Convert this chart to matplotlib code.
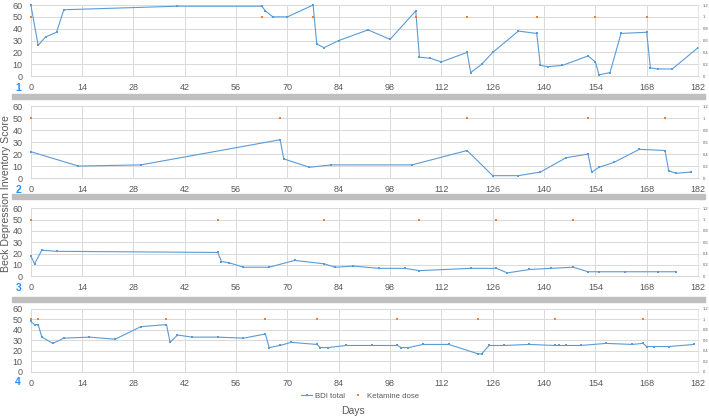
import matplotlib
matplotlib.use("Agg")
import matplotlib.pyplot as plt
from matplotlib.patches import Rectangle

# === DADOS ===
days_1 = [0, 2, 4, 7, 9, 40, 63, 64, 66, 70, 77, 78, 80, 84, 92, 98, 105, 106, 109, 112,
          119, 120, 123, 126, 133, 138, 139, 141, 145, 152, 154, 155, 158, 161, 168, 169,
          171, 175, 182]
bdi_1 = [60, 26, 33, 37, 56, 59, 59, 55, 50, 50, 60, 27, 24, 30, 39, 31, 55, 16, 15, 12,
         20, 3, 10, 20, 38, 36, 9, 8, 9, 17, 12, 1, 3, 36, 37, 7, 6, 6, 24]
ket_1 = [0, 63, 77, 105, 119, 138, 154, 168]

days_2 = [0, 13, 30, 68, 69, 76, 82, 104, 119, 126, 133, 139, 146, 152, 153, 155, 159,
          166, 173, 174, 176, 180]
bdi_2 = [22, 10, 11, 32, 16, 9, 11, 11, 23, 2, 2, 5, 17, 20, 5, 9, 13, 24, 23, 6, 4, 5]
ket_2 = [0, 68, 119, 152, 173]

days_3 = [0, 1, 3, 7, 51, 52, 54, 58, 65, 72, 80, 83, 88, 95, 102, 106, 120, 127, 130,
          136, 142, 148, 152, 155, 162, 171, 176]
bdi_3 = [18, 11, 23, 22, 21, 13, 12, 8, 8, 14, 11, 8, 9, 7, 7, 5, 7, 7, 3, 6, 7, 8, 4, 4,
         4, 4, 4]
ket_3 = [0, 51, 80, 106, 127, 148]

days_4 = [0, 1, 2, 3, 6, 9, 16, 23, 30, 37, 38, 40, 44, 51, 58, 64, 65, 68, 71, 78, 79,
          81, 86, 93, 100, 101, 103, 107, 114, 122, 123, 125, 129, 136, 143, 144, 146,
          150, 157, 164, 167, 168, 170, 174, 181]
bdi_4 = [48, 45, 45, 33, 27, 32, 33, 31, 43, 45, 28, 35, 33, 33, 32, 36, 23, 25, 28, 26,
         23, 23, 25, 25, 25, 23, 23, 26, 26, 17, 17, 25, 25, 26, 25, 25, 25, 25, 27, 26,
         27, 24, 24, 24, 26]
ket_4 = [0, 2, 37, 64, 78, 100, 122, 143, 167]

KET_LEVEL = 1.0
x_ticks = list(range(0, 183, 14))

panels = [
    (days_1, bdi_1, ket_1, "1"),
    (days_2, bdi_2, ket_2, "2"),
    (days_3, bdi_3, ket_3, "3"),
    (days_4, bdi_4, ket_4, "4"),
]

# === ESTILO ===
COL_BDI = "#5b9bd5"
COL_KET = "#ed7d31"
COL_TXT = "#595959"
COL_GRID = "#d9d9d9"
COL_NUM = "#1e90ff"

plt.rcParams["font.family"] = ["Liberation Sans", "DejaVu Sans"]

fig = plt.figure(figsize=(7.09, 4.18), dpi=100)

# posição dos eixos [left, bottom, width, height] em fração da figura
boxes = [
    [0.0435, 0.818, 0.941, 0.170],
    [0.0435, 0.574, 0.941, 0.172],
    [0.0435, 0.339, 0.941, 0.163],
    [0.0435, 0.111, 0.941, 0.150],
]

handles = None
for (d, b, k, num), box in zip(panels, boxes):
    ax = fig.add_axes(box)
    ax2 = ax.twinx()   # fica por cima: pontos de cetamina sobre a grade

    l1, = ax.plot(d, b, color=COL_BDI, lw=0.8, marker="s", ms=1.6, mew=0,
                  label="BDI total", clip_on=False)
    l2, = ax2.plot(k, [KET_LEVEL] * len(k), ls="none", marker="s", ms=2.0, mew=0,
                   color=COL_KET, label="Ketamine dose", clip_on=False)
    handles = [l1, l2]

    ax.set_xlim(0, 182)
    ax.set_ylim(0, 60)
    ax2.set_ylim(0, 1.2)
    ax.set_xticks(x_ticks)
    ax.set_yticks(range(0, 61, 10))
    ax2.set_yticks([0, 0.2, 0.4, 0.6, 0.8, 1.0, 1.2])
    ax2.set_yticklabels(["0", "0.2", "0.4", "0.6", "0.8", "1", "1.2"])

    ax.grid(True, color=COL_GRID, lw=0.7)
    ax.set_axisbelow(True)
    for a in (ax, ax2):
        for s in a.spines.values():
            s.set_visible(False)
    ax.spines["bottom"].set_visible(True)
    ax.spines["bottom"].set_color(COL_GRID)
    ax2.spines["right"].set_visible(True)
    ax2.spines["right"].set_color(COL_GRID)
    ax2.spines["right"].set_linewidth(0.5)

    ax.tick_params(axis="x", length=0, labelsize=6.5, labelcolor=COL_TXT, pad=5)
    ax.tick_params(axis="y", length=0, labelsize=6.5, labelcolor=COL_TXT, pad=6)
    ax2.tick_params(axis="y", length=1.5, width=0.4, color=COL_GRID, labelsize=3,
                    labelcolor=COL_TXT, pad=2)

    # número do paciente, ao lado dos rótulos do eixo x
    ax.text(-0.019, -0.17, num, transform=ax.transAxes, ha="center", va="center",
            fontsize=7.5, fontweight="bold", color=COL_NUM, clip_on=False)

# barras cinza separadoras
for y0 in (0.763, 0.524, 0.278):
    fig.patches.append(Rectangle((0.017, y0), 0.977, 0.012, transform=fig.transFigure,
                                 color="#bfbfbf", zorder=0))

fig.text(0.002, 0.536, "Beck Depression Inventory Score", rotation=90, ha="left",
         va="center", fontsize=7.6, color=COL_TXT)
fig.text(0.498, 0.017, "Days", ha="center", va="center", fontsize=7.5, color=COL_TXT)
fig.legend(handles=handles, labels=["BDI total", "Ketamine dose"], loc="center",
           bbox_to_anchor=(0.508, 0.053), ncol=2, frameon=False, fontsize=5.6,
           handlelength=1.4, handletextpad=0.4, columnspacing=1.0, labelcolor=COL_TXT)

fig.savefig("out.png", dpi=100)
